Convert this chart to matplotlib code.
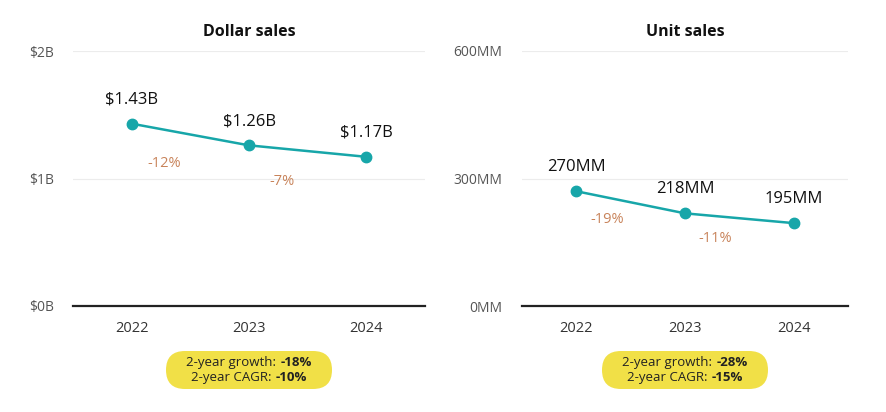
import matplotlib
matplotlib.use("Agg")
import matplotlib.pyplot as plt
from matplotlib.patches import FancyBboxPatch

plt.rcParams['font.family'] = ['Open Sans', 'DejaVu Sans']

years = ["2022", "2023", "2024"]
dollar_sales = [1.43, 1.26, 1.17]          # $B
unit_sales = [270, 218, 195]               # MM
dollar_labels = ["$1.43B", "$1.26B", "$1.17B"]
unit_labels = ["270MM", "218MM", "195MM"]
dollar_changes = ["-12%", "-7%"]
unit_changes = ["-19%", "-11%"]
dollar_ticks = [0, 1, 2]
dollar_ticklabels = ["$0B", "$1B", "$2B"]
unit_ticks = [0, 300, 600]
unit_ticklabels = ["0MM", "300MM", "600MM"]
dollar_summary = [("2-year growth:", "-18%"), ("2-year CAGR:", "-10%")]
unit_summary = [("2-year growth:", "-28%"), ("2-year CAGR:", "-15%")]

TEAL = "#17a6a9"
ORANGE = "#c8835a"
YELLOW = "#f1e047"

W, H = 886, 412
fig = plt.figure(figsize=(W / 100, H / 100), dpi=100)
fig.patch.set_facecolor("white")


def panel(rect, vals, labels, changes, ticks, ticklabels, title, summary, chg_off):
    ax = fig.add_axes(rect)
    x = list(range(len(vals)))
    ax.set_xlim(-0.5, 2.5)
    ax.set_ylim(ticks[0], ticks[-1])
    for s in ax.spines.values():
        s.set_visible(False)
    for t in ticks[1:]:
        ax.axhline(t, color="#ececec", lw=0.8, zorder=0)
    ax.axhline(ticks[0], color="#222222", lw=1.6, clip_on=False, zorder=1)
    ax.plot(x, vals, color=TEAL, lw=1.8, marker="o", ms=7.5, zorder=3, clip_on=False)
    for xi, v, lab in zip(x, vals, labels):
        ax.annotate(lab, (xi, v), xytext=(0, 11.5), textcoords="offset points",
                    ha="center", va="bottom", fontsize=12, color="#111111")
    for i, c in enumerate(changes):
        xm = i + 0.28
        ym = vals[i] + (vals[i + 1] - vals[i]) * 0.28
        ax.annotate(c, (xm, ym), xytext=(0, chg_off), textcoords="offset points",
                    ha="center", va="center", fontsize=10.5, color=ORANGE)
    ax.set_yticks(ticks)
    ax.set_yticklabels(ticklabels, fontsize=10, color="#555555")
    ax.set_xticks(x)
    ax.set_xticklabels(years, fontsize=10.5, color="#333333")
    ax.tick_params(axis="both", length=0)
    ax.tick_params(axis="y", pad=14)
    ax.tick_params(axis="x", pad=11)
    ax.set_title(title, fontsize=11.5, fontweight="bold", pad=11, color="#111111")

    # summary pill, drawn in inches so the round ends stay round
    cx = (rect[0] + rect[2] / 2) * W / 100
    pw, ph = 1.66, 0.38
    py = (H - 389) / 100
    pill = FancyBboxPatch((cx - pw / 2, py), pw, ph,
                          boxstyle="round,pad=0,rounding_size=%f" % (ph / 2),
                          transform=fig.dpi_scale_trans, facecolor=YELLOW, edgecolor="none")
    fig.add_artist(pill)
    fig.canvas.draw()
    r = fig.canvas.get_renderer()
    gap = 4 / W
    for k, (normal, bold) in enumerate(summary):
        ly = (py + ph * (0.71 - 0.42 * k)) / (H / 100)
        t1 = fig.text(0, ly, normal, fontsize=9.5, color="#222222", va="center", ha="left")
        t2 = fig.text(0, ly, bold, fontsize=9.5, fontweight="bold", color="#222222",
                      va="center", ha="left")
        w1 = t1.get_window_extent(r).width / W
        w2 = t2.get_window_extent(r).width / W
        x0 = cx / (W / 100) - (w1 + gap + w2) / 2
        t1.set_x(x0)
        t2.set_x(x0 + w1 + gap)
    return ax


panel([73 / W, 1 - 306 / H, 352 / W, 255 / H], dollar_sales, dollar_labels, dollar_changes,
      dollar_ticks, dollar_ticklabels, "Dollar sales", dollar_summary, -24)
panel([522 / W, 1 - 306 / H, 326 / W, 255 / H], unit_sales, unit_labels, unit_changes,
      unit_ticks, unit_ticklabels, "Unit sales", unit_summary, -16)

fig.savefig("out.png", dpi=100)
